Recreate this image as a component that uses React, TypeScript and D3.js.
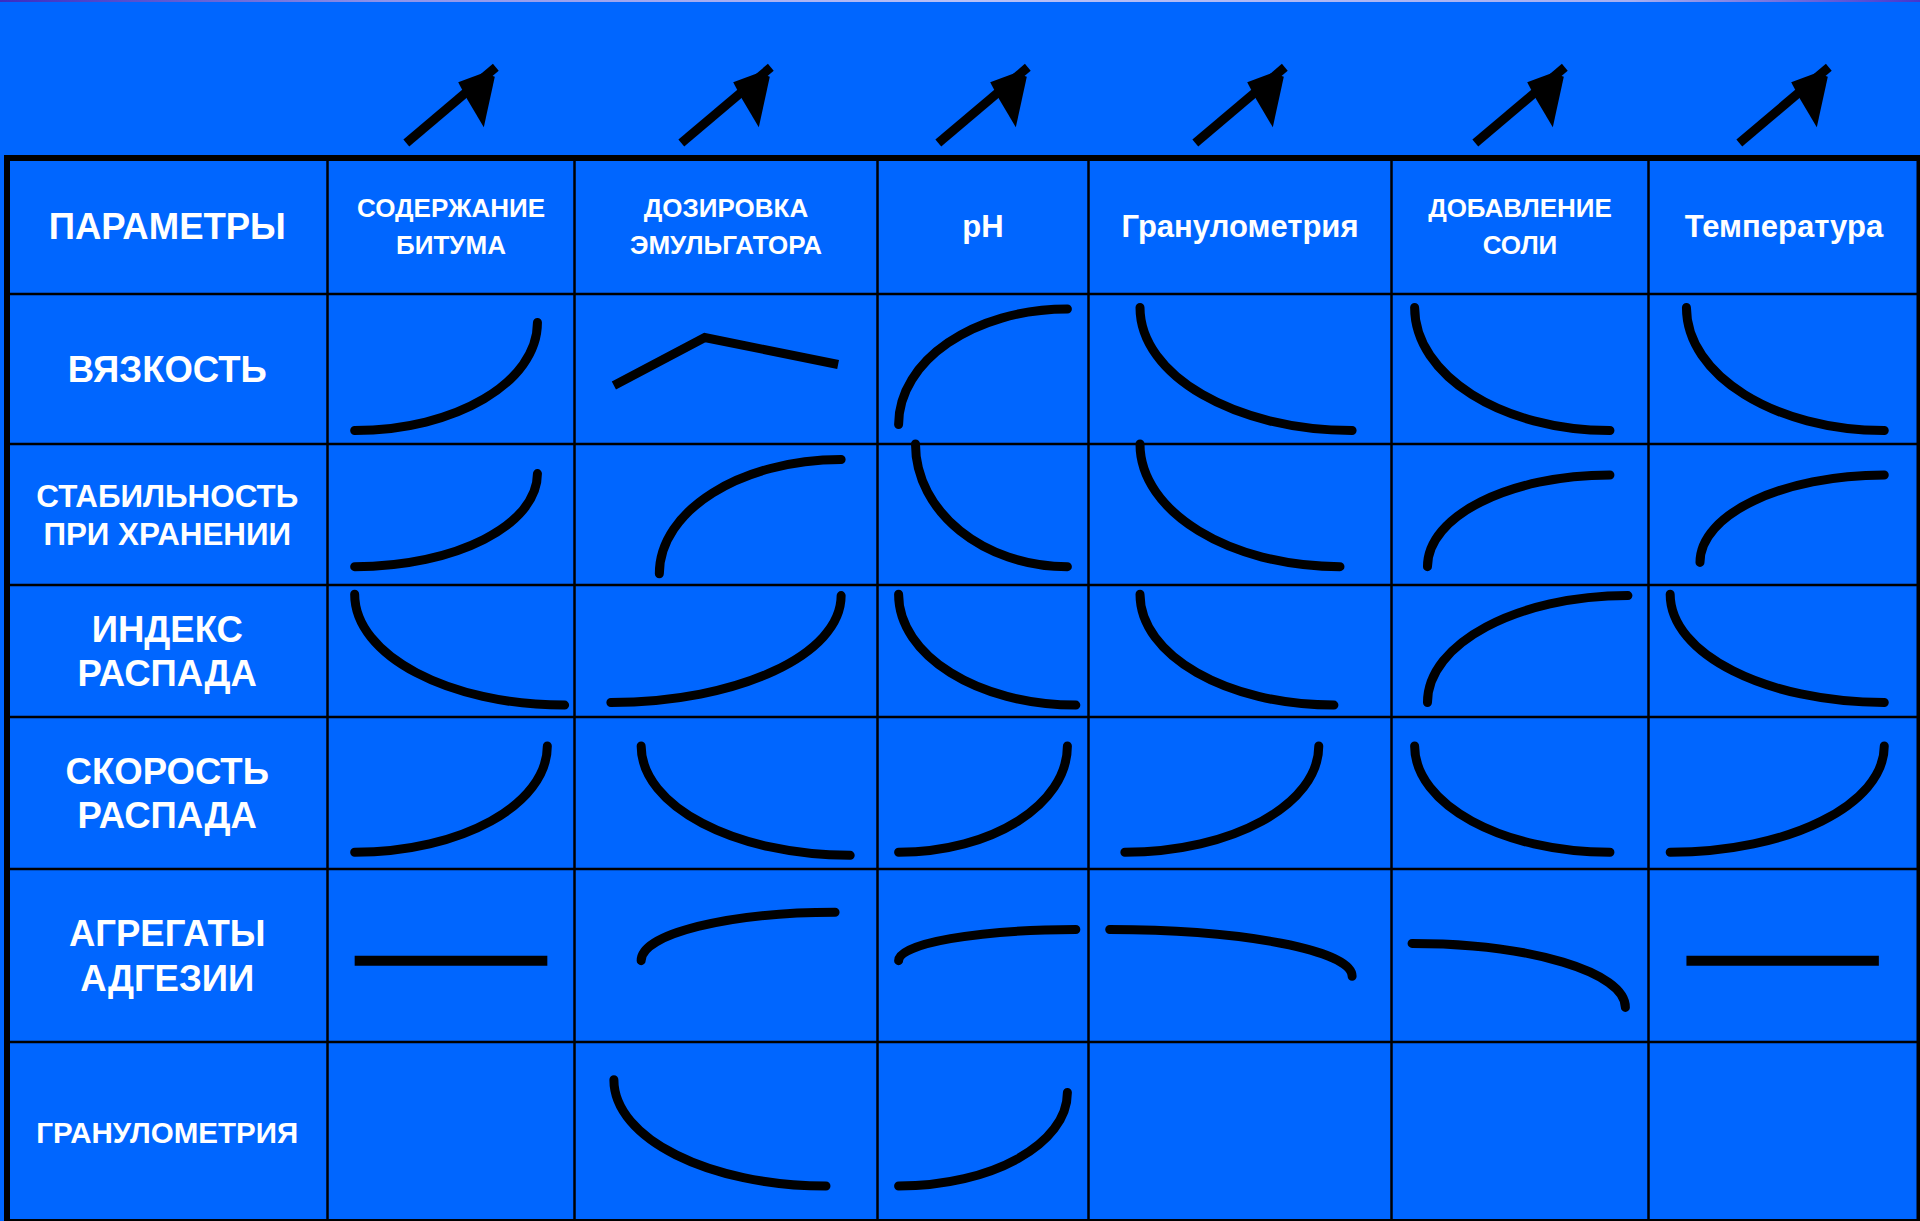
import React, { useRef, useEffect } from 'react';
import * as d3 from 'd3';

type Trend = { kind: 'slow' | 'fast' | 'line'; pts: [number, number][] } | null;

// column headers - factors that are increased (arrows above)
const factors: string[][] = [
  ['СОДЕРЖАНИЕ', 'БИТУМА'],
  ['ДОЗИРОВКА', 'ЭМУЛЬГАТОРА'],
  ['pH'],
  ['Гранулометрия'],
  ['ДОБАВЛЕНИЕ', 'СОЛИ'],
  ['Температура'],
];

const parameters: string[][] = [
  ['ВЯЗКОСТЬ'],
  ['СТАБИЛЬНОСТЬ', 'ПРИ ХРАНЕНИИ'],
  ['ИНДЕКС', 'РАСПАДА'],
  ['СКОРОСТЬ', 'РАСПАДА'],
  ['АГРЕГАТЫ', 'АДГЕЗИИ'],
  ['ГРАНУЛОМЕТРИЯ'],
];

// trend sketch for every cell, points are [x, v]:
// x - share of the cell width, v - share of the cell height counted from the bottom
// 'fast' = steep change first, then levels off; 'slow' = flat first, then steep
const viscosity: Trend[] = [
  { kind: 'slow', pts: [[0.11, 0.09], [0.85, 0.81]] },
  { kind: 'line', pts: [[0.13, 0.39], [0.43, 0.71], [0.87, 0.53]] },
  { kind: 'fast', pts: [[0.10, 0.13], [0.90, 0.90]] },
  { kind: 'fast', pts: [[0.17, 0.91], [0.87, 0.09]] },
  { kind: 'fast', pts: [[0.09, 0.91], [0.85, 0.09]] },
  { kind: 'fast', pts: [[0.14, 0.91], [0.87, 0.09]] },
];

const storageStability: Trend[] = [
  { kind: 'slow', pts: [[0.11, 0.13], [0.85, 0.79]] },
  { kind: 'fast', pts: [[0.28, 0.08], [0.88, 0.89]] },
  { kind: 'fast', pts: [[0.18, 1.0], [0.90, 0.13]] },
  { kind: 'fast', pts: [[0.17, 1.0], [0.83, 0.13]] },
  { kind: 'fast', pts: [[0.14, 0.13], [0.85, 0.78]] },
  { kind: 'fast', pts: [[0.19, 0.16], [0.87, 0.78]] },
];

const breakIndex: Trend[] = [
  { kind: 'fast', pts: [[0.11, 0.93], [0.96, 0.09]] },
  { kind: 'slow', pts: [[0.12, 0.11], [0.88, 0.92]] },
  { kind: 'fast', pts: [[0.10, 0.93], [0.94, 0.09]] },
  { kind: 'fast', pts: [[0.17, 0.93], [0.81, 0.09]] },
  { kind: 'fast', pts: [[0.14, 0.11], [0.92, 0.92]] },
  { kind: 'fast', pts: [[0.08, 0.93], [0.87, 0.11]] },
];

const breakRate: Trend[] = [
  { kind: 'slow', pts: [[0.11, 0.11], [0.89, 0.81]] },
  { kind: 'fast', pts: [[0.22, 0.81], [0.91, 0.09]] },
  { kind: 'slow', pts: [[0.10, 0.11], [0.90, 0.81]] },
  { kind: 'slow', pts: [[0.12, 0.11], [0.76, 0.81]] },
  { kind: 'fast', pts: [[0.09, 0.81], [0.85, 0.11]] },
  { kind: 'slow', pts: [[0.08, 0.11], [0.87, 0.81]] },
];

const adhesionAggregates: Trend[] = [
  { kind: 'line', pts: [[0.11, 0.47], [0.89, 0.47]] },
  { kind: 'fast', pts: [[0.22, 0.47], [0.86, 0.75]] },
  { kind: 'fast', pts: [[0.10, 0.47], [0.94, 0.65]] },
  { kind: 'slow', pts: [[0.07, 0.65], [0.87, 0.38]] },
  { kind: 'slow', pts: [[0.08, 0.57], [0.91, 0.20]] },
  { kind: 'line', pts: [[0.14, 0.47], [0.85, 0.47]] },
];

const granulometry: Trend[] = [
  null,
  { kind: 'fast', pts: [[0.13, 0.79], [0.83, 0.20]] },
  { kind: 'slow', pts: [[0.10, 0.20], [0.90, 0.72]] },
  null,
  null,
  null,
];

const trends = [viscosity, storageStability, breakIndex, breakRate, adhesionAggregates, granulometry];

// layout of the table
const W = 1920;
const H = 1221;
const left = 7;
const top = 158;
const colWidths = [320.5, 247, 303, 211, 303, 257, 271];
const rowHeights = [136, 150, 141, 132, 152, 173, 180];
const BLUE = '#0066ff';
const FONT = "'Liberation Sans', Arial, sans-serif";
const K = 0.5523;

const App: React.FC = () => {
  const svgRef = useRef<SVGSVGElement | null>(null);

  useEffect(() => {
    const svg = d3.select(svgRef.current)
      .attr('width', W)
      .attr('height', H)
      .style('position', 'absolute')
      .style('left', '0px')
      .style('top', '0px')
      .style('display', 'block');

    svg.append('rect').attr('width', W).attr('height', H).attr('fill', BLUE);

    // thin gradient strip on top edge
    const grad = svg.append('defs').append('linearGradient').attr('id', 'topStrip');
    [[0, '#3a2cc2'], [0.2, '#8e93ea'], [0.5, '#b9c0f6'], [0.85, '#a7aff1'], [1, '#4636cc']].forEach(([o, c]) => {
      grad.append('stop').attr('offset', o as number).attr('stop-color', c as string);
    });
    svg.append('rect').attr('width', W).attr('height', 2).attr('fill', 'url(#topStrip)');

    const colX = [left, ...d3.cumsum(colWidths).map(d => d + left)];
    const rowY = [top, ...d3.cumsum(rowHeights).map(d => d + top)];

    // grid
    const grid = svg.append('g').attr('stroke', '#000');
    colX.slice(1, -1).forEach(x => {
      grid.append('line').attr('x1', x).attr('x2', x).attr('y1', top).attr('y2', rowY[rowY.length - 1]).attr('stroke-width', 2.5);
    });
    rowY.slice(1, -1).forEach(y => {
      grid.append('line').attr('x1', left).attr('x2', colX[colX.length - 1]).attr('y1', y).attr('y2', y).attr('stroke-width', 2.5);
    });
    grid.append('rect')
      .attr('x', left).attr('y', top)
      .attr('width', d3.sum(colWidths)).attr('height', d3.sum(rowHeights))
      .attr('fill', 'none').attr('stroke-width', 6);

    // multi-line centred labels
    const label = (lines: string[], cx: number, cy: number, size: number, lh: number, maxW?: number) => {
      const t = svg.append('text')
        .attr('x', cx).attr('y', cy)
        .attr('text-anchor', 'middle')
        .attr('font-family', FONT)
        .attr('font-weight', 'bold')
        .attr('font-size', size)
        .attr('fill', '#fff');
      const spans = lines.map((s, i) => t.append('tspan')
        .attr('x', cx)
        .attr('dy', i === 0 ? `${0.36 - ((lines.length - 1) * lh) / 2}em` : `${lh}em`)
        .text(s));
      if (maxW) {
        const w = d3.max(spans, s => (s.node() as SVGTSpanElement).getComputedTextLength()) || 0;
        if (w > maxW) t.attr('font-size', (size * maxW) / w);
      }
    };

    label(['ПАРАМЕТРЫ'], (colX[0] + colX[1]) / 2, (rowY[0] + rowY[1]) / 2, 36.5, 1.22);
    factors.forEach((f, i) => {
      const cx = (colX[i + 1] + colX[i + 2]) / 2;
      label(f, cx, (rowY[0] + rowY[1]) / 2, f.length > 1 ? 26 : 31, 1.45);
    });
    parameters.forEach((p, i) => {
      label(p, (colX[0] + colX[1]) / 2, (rowY[i + 1] + rowY[i + 2]) / 2, 36.5, 1.22, 262);
    });

    // arrows above factor columns
    const head: [number, number][] = [[7.2, -22.7], [32.8, -32.3], [43.8, -28.3], [32.8, 22.3], [16.2, -5.7]];
    factors.forEach((_, i) => {
      const cx = (colX[i + 1] + colX[i + 2]) / 2;
      const a = svg.append('g').attr('transform', `translate(${cx},105)`);
      a.append('line')
        .attr('x1', -44.7).attr('y1', 38).attr('x2', 44.8).attr('y2', -37.7)
        .attr('stroke', '#000').attr('stroke-width', 9);
      a.append('polygon').attr('points', head.map(p => p.join(',')).join(' ')).attr('fill', '#000');
    });

    // trend curves
    const curves = svg.append('g').attr('fill', 'none').attr('stroke', '#000');
    trends.forEach((row, r) => {
      row.forEach((t, c) => {
        if (!t) return;
        const xs = d3.scaleLinear().domain([0, 1]).range([colX[c + 1], colX[c + 2]]);
        const ys = d3.scaleLinear().domain([0, 1]).range([rowY[r + 2], rowY[r + 1]]);
        const p = t.pts.map(([x, v]) => [xs(x), ys(v)] as [number, number]);
        if (t.kind === 'line') {
          curves.append('path')
            .attr('d', d3.line()(p))
            .attr('stroke-width', p.length > 2 ? 9 : 10)
            .attr('stroke-linecap', 'butt')
            .attr('stroke-linejoin', 'miter');
          return;
        }
        const [[ax, ay], [bx, by]] = p;
        const path = d3.path();
        path.moveTo(ax, ay);
        if (t.kind === 'fast') path.bezierCurveTo(ax, ay + K * (by - ay), bx - K * (bx - ax), by, bx, by);
        else path.bezierCurveTo(ax + K * (bx - ax), ay, bx, by - K * (by - ay), bx, by);
        curves.append('path')
          .attr('d', path.toString())
          .attr('stroke-width', 9)
          .attr('stroke-linecap', 'round');
      });
    });

    return () => {
      svg.selectAll('*').remove();
    };
  }, []);

  return <svg ref={svgRef}></svg>;
};

export default App;
